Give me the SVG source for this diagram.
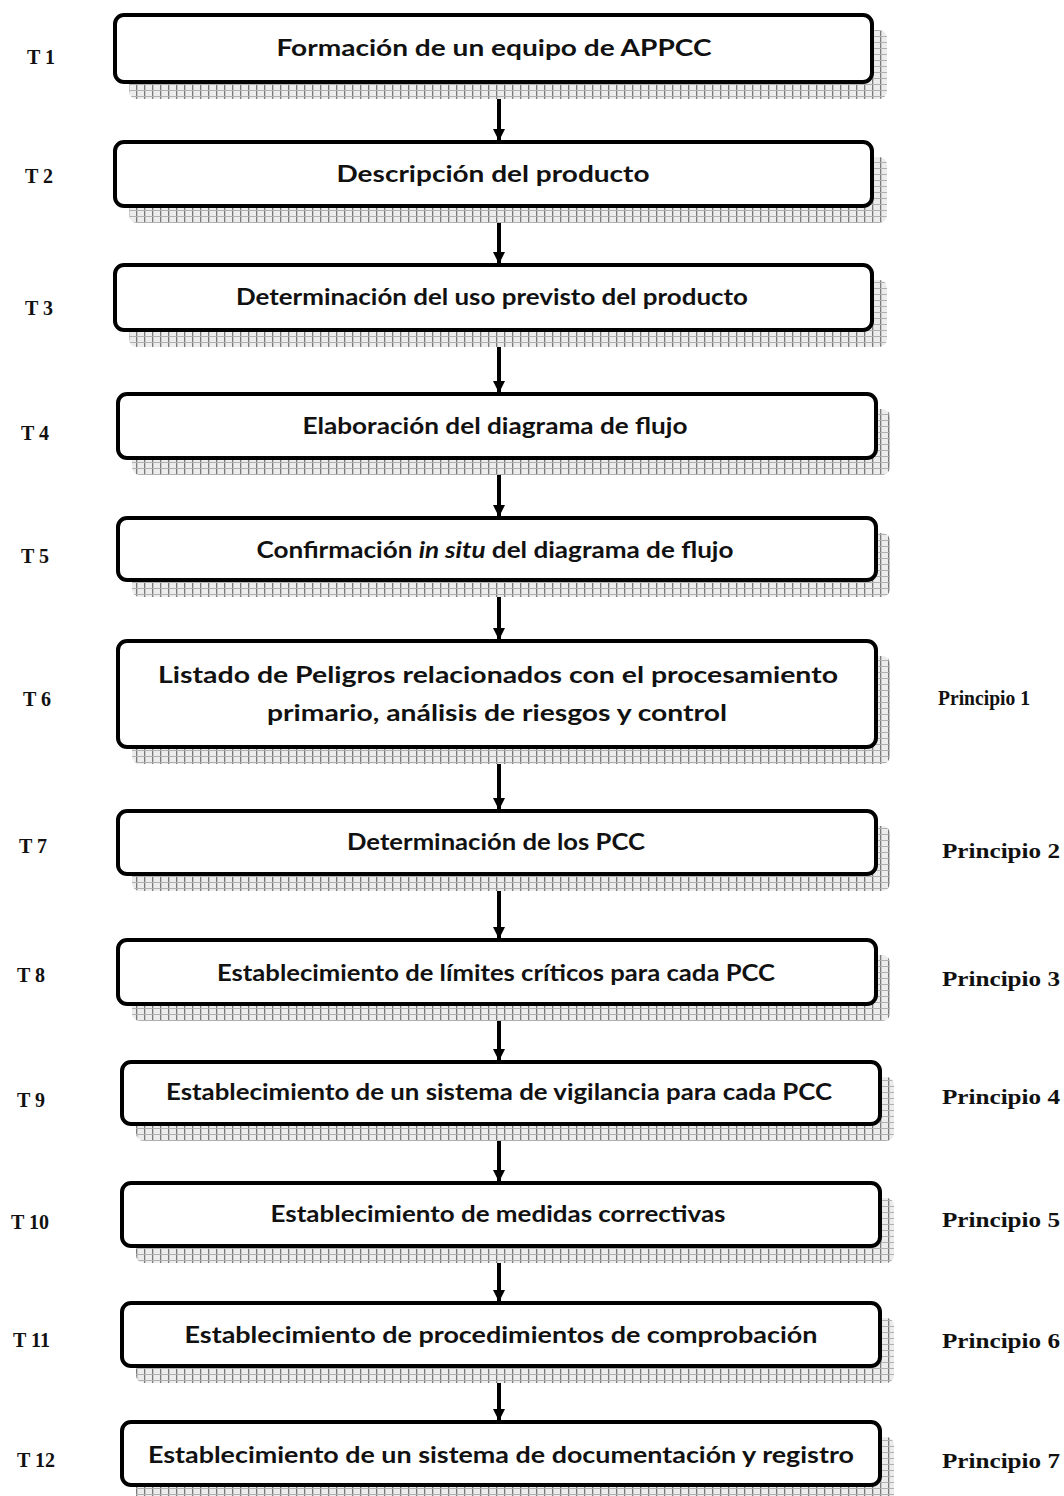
<svg xmlns="http://www.w3.org/2000/svg" width="1064" height="1496" viewBox="0 0 1064 1496">
  <defs>
    <pattern id="hatch" width="8" height="6" patternUnits="userSpaceOnUse">
      <rect width="8" height="6" fill="#ececec"/>
      <rect x="0" y="0" width="1.3" height="6" fill="#7a7a7a"/>
      <rect x="0" y="0" width="8" height="1" fill="#b0b0b0"/>
    </pattern>
    <marker id="arrow" viewBox="0 0 12 12" refX="11" refY="6" markerWidth="12" markerHeight="12" markerUnits="userSpaceOnUse" orient="auto">
      <path d="M0,0 L12,6 L0,12 Z" fill="#000"/>
    </marker>
    <style>
      .shadow { fill: url(#hatch); }
      .box { fill: #fff; stroke: #000; stroke-width: 4; }
      .lbl { font-family: Lato, "Open Sans", "Liberation Sans", sans-serif; font-weight: bold; font-size: 23px; fill: #111; text-anchor: middle; }
      .side { font-family: "Liberation Serif", serif; font-weight: bold; font-size: 20px; fill: #111; }
      .conn { stroke: #000; stroke-width: 4; fill: none; marker-end: url(#arrow); }
    </style>
  </defs>
  <rect width="1064" height="1496" fill="#fff"/>

  <!-- connectors between consecutive steps -->
  <g id="connectors">
    <line class="conn" x1="499" y1="84" x2="499" y2="140"/>
    <line class="conn" x1="499" y1="208" x2="499" y2="263"/>
    <line class="conn" x1="499" y1="332" x2="499" y2="392"/>
    <line class="conn" x1="499" y1="460" x2="499" y2="516"/>
    <line class="conn" x1="499" y1="582" x2="499" y2="639"/>
    <line class="conn" x1="499" y1="749" x2="499" y2="809"/>
    <line class="conn" x1="499" y1="876" x2="499" y2="938"/>
    <line class="conn" x1="499" y1="1006" x2="499" y2="1060"/>
    <line class="conn" x1="499" y1="1126" x2="499" y2="1181"/>
    <line class="conn" x1="499" y1="1248" x2="499" y2="1301"/>
    <line class="conn" x1="499" y1="1368" x2="499" y2="1420"/>
  </g>

  <g id="step1">
    <rect class="shadow" x="129" y="30" width="758" height="69" rx="8"/>
    <rect class="box" x="115" y="15" width="757" height="67" rx="9"/>
    <text class="lbl" x="494" y="56" textLength="435" lengthAdjust="spacingAndGlyphs">Formación de un equipo de APPCC</text>
    <text class="side" x="27" y="64">T 1</text>
  </g>
  <g id="step2">
    <rect class="shadow" x="129" y="157" width="758" height="66" rx="8"/>
    <rect class="box" x="115" y="142" width="757" height="64" rx="9"/>
    <text class="lbl" x="493" y="182" textLength="313" lengthAdjust="spacingAndGlyphs">Descripción del producto</text>
    <text class="side" x="25" y="183">T 2</text>
  </g>
  <g id="step3">
    <rect class="shadow" x="129" y="280" width="758" height="67" rx="8"/>
    <rect class="box" x="115" y="265" width="757" height="65" rx="9"/>
    <text class="lbl" x="492" y="305" textLength="512" lengthAdjust="spacingAndGlyphs">Determinación del uso previsto del producto</text>
    <text class="side" x="25" y="315">T 3</text>
  </g>
  <g id="step4">
    <rect class="shadow" x="132" y="409" width="758" height="66" rx="8"/>
    <rect class="box" x="118" y="394" width="758" height="64" rx="9"/>
    <text class="lbl" x="495" y="434" textLength="385" lengthAdjust="spacingAndGlyphs">Elaboración del diagrama de flujo</text>
    <text class="side" x="21" y="440">T 4</text>
  </g>
  <g id="step5">
    <rect class="shadow" x="132" y="533" width="758" height="64" rx="8"/>
    <rect class="box" x="118" y="518" width="758" height="62" rx="9"/>
    <text class="lbl" x="495" y="558" textLength="477" lengthAdjust="spacingAndGlyphs"><tspan>Confirmación </tspan><tspan font-style="italic">in situ</tspan><tspan> del diagrama de flujo</tspan></text>
    <text class="side" x="21" y="563">T 5</text>
  </g>
  <g id="step6">
    <rect class="shadow" x="132" y="656" width="758" height="108" rx="8"/>
    <rect class="box" x="118" y="641" width="758" height="106" rx="9"/>
    <text class="lbl" x="498" y="683" textLength="680" lengthAdjust="spacingAndGlyphs">Listado de Peligros relacionados con el procesamiento</text>
    <text class="lbl" x="497" y="721" textLength="460" lengthAdjust="spacingAndGlyphs">primario, análisis de riesgos y control</text>
    <text class="side" x="23" y="706">T 6</text>
    <text class="side" x="938" y="705" textLength="92" lengthAdjust="spacingAndGlyphs" font-size="18">Principio 1</text>
  </g>
  <g id="step7">
    <rect class="shadow" x="132" y="826" width="758" height="65" rx="8"/>
    <rect class="box" x="118" y="811" width="758" height="63" rx="9"/>
    <text class="lbl" x="496" y="850" textLength="298" lengthAdjust="spacingAndGlyphs">Determinación de los PCC</text>
    <text class="side" x="19" y="853">T 7</text>
    <text class="side" x="942" y="858" textLength="118" lengthAdjust="spacingAndGlyphs">Principio 2</text>
  </g>
  <g id="step8">
    <rect class="shadow" x="132" y="955" width="758" height="66" rx="8"/>
    <rect class="box" x="118" y="940" width="758" height="64" rx="9"/>
    <text class="lbl" x="496" y="981" textLength="558" lengthAdjust="spacingAndGlyphs">Establecimiento de límites críticos para cada PCC</text>
    <text class="side" x="17" y="982">T 8</text>
    <text class="side" x="942" y="986" textLength="118" lengthAdjust="spacingAndGlyphs">Principio 3</text>
  </g>
  <g id="step9">
    <rect class="shadow" x="136" y="1077" width="758" height="64" rx="8"/>
    <rect class="box" x="122" y="1062" width="758" height="62" rx="9"/>
    <text class="lbl" x="499" y="1100" textLength="666" lengthAdjust="spacingAndGlyphs">Establecimiento de un sistema de vigilancia para cada PCC</text>
    <text class="side" x="17" y="1107">T 9</text>
    <text class="side" x="942" y="1104" textLength="118" lengthAdjust="spacingAndGlyphs">Principio 4</text>
  </g>
  <g id="step10">
    <rect class="shadow" x="136" y="1198" width="758" height="65" rx="8"/>
    <rect class="box" x="122" y="1183" width="758" height="63" rx="9"/>
    <text class="lbl" x="498" y="1222" textLength="455" lengthAdjust="spacingAndGlyphs">Establecimiento de medidas correctivas</text>
    <text class="side" x="11" y="1229">T 10</text>
    <text class="side" x="942" y="1227" textLength="118" lengthAdjust="spacingAndGlyphs">Principio 5</text>
  </g>
  <g id="step11">
    <rect class="shadow" x="136" y="1318" width="758" height="65" rx="8"/>
    <rect class="box" x="122" y="1303" width="758" height="63" rx="9"/>
    <text class="lbl" x="501" y="1343" textLength="633" lengthAdjust="spacingAndGlyphs">Establecimiento de procedimientos de comprobación</text>
    <text class="side" x="13" y="1347">T 11</text>
    <text class="side" x="942" y="1348" textLength="118" lengthAdjust="spacingAndGlyphs">Principio 6</text>
  </g>
  <g id="step12">
    <rect class="shadow" x="136" y="1437" width="758" height="66" rx="8"/>
    <rect class="box" x="122" y="1422" width="758" height="63" rx="9"/>
    <text class="lbl" x="501" y="1463" textLength="706" lengthAdjust="spacingAndGlyphs">Establecimiento de un sistema de documentación y registro</text>
    <text class="side" x="17" y="1467">T 12</text>
    <text class="side" x="942" y="1468" textLength="118" lengthAdjust="spacingAndGlyphs">Principio 7</text>
  </g>
</svg>
